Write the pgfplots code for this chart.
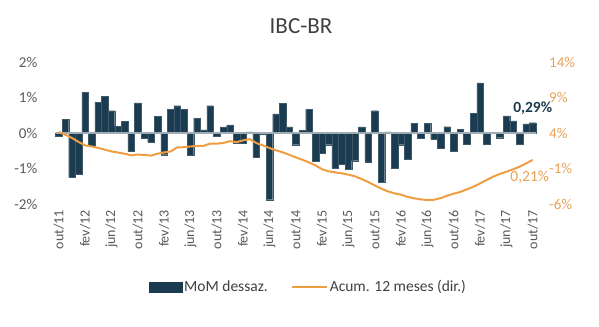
\documentclass[border=0pt]{standalone}
\usepackage{pgfplots}
\usepackage{pgfplotstable}
\pgfplotsset{compat=1.18}
\usepackage{fontspec}
\setmainfont{Carlito}
\definecolor{barc}{RGB}{27,60,80}
\definecolor{orc}{RGB}{238,158,64}
\definecolor{orl}{RGB}{232,162,88}
\definecolor{zeroc}{RGB}{160,172,180}
\definecolor{txt}{RGB}{89,89,89}
\definecolor{ttl}{RGB}{64,64,64}

\pgfplotsset{
  barleg/.style={legend image code/.code={\fill[barc] (0bp,-5bp) rectangle (33bp,5bp);}},
  lineleg/.style={legend image code/.code={\draw[orc, line width=2pt] (0bp,0bp) -- (35bp,0bp);}},
}

\pgfplotstableread{
k mom acum
0 -0.08 4.15
1 0.39 3.76
2 -1.25 3.30
3 -1.15 2.75
4 1.14 2.25
5 -0.36 2.10
6 0.87 1.90
7 1.03 1.65
8 0.63 1.40
9 0.19 1.25
10 0.33 1.08
11 -0.52 0.85
12 0.85 0.97
13 -0.14 0.90
14 -0.26 0.82
15 0.47 1.08
16 -0.61 1.27
17 0.66 1.40
18 0.77 1.97
19 0.66 2.00
20 -0.62 2.10
21 0.42 2.20
22 0.09 2.20
23 0.77 2.50
24 -0.08 2.50
25 0.17 2.60
26 0.23 2.85
27 -0.28 2.72
28 -0.28 2.96
29 0.03 3.15
30 -0.68 2.59
31 -0.02 2.26
32 -1.88 1.89
33 0.54 1.56
34 0.84 1.28
35 0.17 0.94
36 -0.33 0.57
37 0.07 0.24
38 0.66 -0.14
39 -0.80 -0.56
40 -0.56 -1.10
41 -0.33 -1.40
42 -0.99 -1.55
43 -0.87 -1.68
44 -1.03 -1.87
45 -0.78 -2.10
46 0.17 -2.48
47 -0.82 -2.90
48 0.63 -3.38
49 -1.38 -3.84
50 0.03 -4.22
51 -1.00 -4.50
52 -0.33 -4.69
53 -0.73 -5.00
54 0.28 -5.20
55 -0.14 -5.35
56 0.28 -5.44
57 -0.17 -5.40
58 -0.42 -5.18
59 0.18 -4.83
60 -0.50 -4.55
61 0.10 -4.30
62 -0.32 -3.94
63 0.55 -3.56
64 1.41 -3.10
65 -0.32 -2.62
66 0.00 -2.15
67 -0.13 -1.77
68 0.48 -1.45
69 0.34 -1.12
70 -0.32 -0.75
71 0.26 -0.28
72 0.29 0.21
}\data

\begin{document}
\begin{tikzpicture}
\path[use as bounding box] (0,0) rectangle (599bp,327bp);
\node[font=\fontsize{23bp}{26bp}\selectfont, text=ttl] at (301bp,301bp) {IBC-BR};
\begin{axis}[
  at={(55.5bp,123bp)}, anchor=south west,
  scale only axis, width=480.5bp, height=142bp,
  xmin=-0.5, xmax=72.5, ymin=-2, ymax=2,
  clip=false,
  axis lines*=left, axis line style={draw=none},
  major tick length=0pt,
  ytick={-2,-1,0,1,2},
  yticklabels={-2\%,-1\%,0\%,1\%,2\%},
  yticklabel style={font=\fontsize{15bp}{17bp}\selectfont, text=txt, inner sep=0pt, anchor=east},
  yticklabel shift=18bp,
  xtick={0,4,...,72},
  xticklabels={out/11,fev/12,jun/12,out/12,fev/13,jun/13,out/13,fev/14,jun/14,out/14,fev/15,jun/15,out/15,fev/16,jun/16,out/16,fev/17,jun/17,out/17},
  xticklabel style={font=\fontsize{14bp}{16bp}\selectfont, text=txt, inner sep=0pt, rotate=90, anchor=east},
  xticklabel shift=6bp,
  legend style={at={(0.5265,-0.585)}, anchor=center, draw=none, fill=none,
    font=\fontsize{15.5bp}{18bp}\selectfont, text=ttl,
    legend columns=2,
    /tikz/every even column/.append style={column sep=21bp}},
]
\addplot[ybar, bar width=1, fill=barc, draw=barc!85!white, line width=0.2pt, barleg]
  table[x=k, y=mom]{\data};
\addlegendentry{MoM dessaz.}
\addlegendimage{lineleg}
\addlegendentry{Acum. 12 meses (dir.)}
\draw[zeroc, line width=1.3pt] (axis cs:-0.5,0) -- (axis cs:72.5,0);
\node[font=\bfseries\fontsize{15.5bp}{18bp}\selectfont, text=barc] at (axis cs:72,0.29) [yshift=15bp] {0,29\%};
\end{axis}
\begin{axis}[
  at={(55.5bp,123bp)}, anchor=south west,
  scale only axis, width=480.5bp, height=142bp,
  xmin=-0.5, xmax=72.5, ymin=-6, ymax=14,
  clip=false,
  axis y line*=right, axis x line=none, axis line style={draw=none},
  major tick length=0pt,
  xtick=\empty,
  ytick={-6,-1,4,9,14},
  yticklabels={-6\%,-1\%,4\%,9\%,14\%},
  yticklabel style={font=\fontsize{15bp}{17bp}\selectfont, text=orl, inner sep=0pt, anchor=west},
  yticklabel shift=13bp,
]
\addplot[color=orc, line width=2pt, line join=round] table[x=k, y=acum]{\data};
\node[font=\fontsize{15.5bp}{18bp}\selectfont, text=orl, inner sep=0pt] at (axis cs:72,0.21) [xshift=-3bp, yshift=-17bp] {0,21\%};
\end{axis}
\end{tikzpicture}
\end{document}
